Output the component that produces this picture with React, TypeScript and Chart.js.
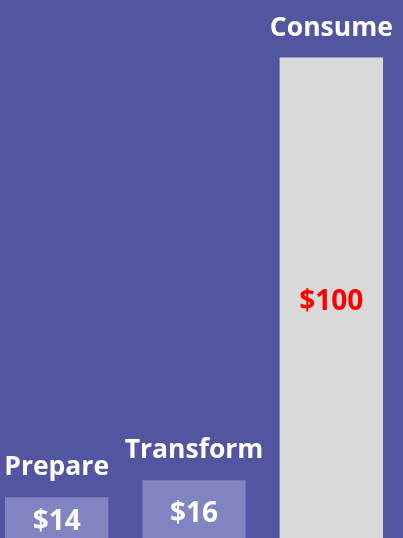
import React, { useEffect, useRef } from "react";
import { Chart, registerables } from "chart.js";

Chart.register(...registerables);

// Stage names
const categories: string[] = ["Prepare", "Transform", "Consume"];
// Dollar values printed on the bars
const values: number[] = [14, 16, 100];
// Bar heights as drawn in the picture (relative scale, Consume = 100)
const barHeights: number[] = [9.8, 13.3, 100];
const valueLabels: string[] = values.map((v) => "$" + v);

const BG = "#5256A0";
const FONT = "'Open Sans', 'Noto Sans', sans-serif";

const labelPlugin = {
  id: "stageLabels",
  afterDatasetsDraw(chart: any) {
    const ctx = chart.ctx;
    const meta = chart.getDatasetMeta(0);
    ctx.save();
    meta.data.forEach((bar: any, i: number) => {
      const props = bar.getProps(["x", "y", "base"], true);
      // category name above the bar
      ctx.font = `700 26.5px ${FONT}`;
      ctx.fillStyle = "#FFFFFF";
      ctx.textAlign = "center";
      ctx.textBaseline = "alphabetic";
      ctx.fillText(categories[i], props.x, props.y - 22);
      // value in the middle of the bar
      ctx.font = `700 28px ${FONT}`;
      ctx.textBaseline = "middle";
      ctx.fillStyle = i === 2 ? "#FF0000" : "#FFFFFF";
      ctx.fillText(valueLabels[i], props.x, (props.y + props.base) / 2 + 1);
    });
    ctx.restore();
  },
};

export default function App() {
  const ref = useRef<HTMLCanvasElement | null>(null);
  useEffect(() => {
    document.body.style.margin = "0";
    const canvas = ref.current!;
    const chart = new Chart(canvas, {
      type: "bar",
      data: {
        labels: categories,
        datasets: [
          {
            data: barHeights,
            backgroundColor: ["#8084C0", "#8084C0", "#D9D9D9"],
            borderWidth: 0,
            barPercentage: 0.753,
            categoryPercentage: 1,
          },
        ],
      },
      options: {
        animation: false,
        responsive: false,
        maintainAspectRatio: false,
        devicePixelRatio: 1,
        layout: { padding: 0 },
        plugins: {
          legend: { display: false },
          tooltip: { enabled: false },
        },
        scales: {
          x: { display: false, offset: true },
          y: { display: false, min: 0, max: 111.8 },
        },
      },
      plugins: [labelPlugin],
    });
    return () => chart.destroy();
  }, []);

  return (
    <div
      style={{
        position: "fixed",
        left: 0,
        top: 0,
        width: 403,
        height: 538,
        overflow: "hidden",
        background: BG,
      }}
    >
      <canvas
        ref={ref}
        width={412}
        height={545}
        style={{ position: "absolute", left: -12, top: 0, width: 412, height: 545 }}
      />
    </div>
  );
}
